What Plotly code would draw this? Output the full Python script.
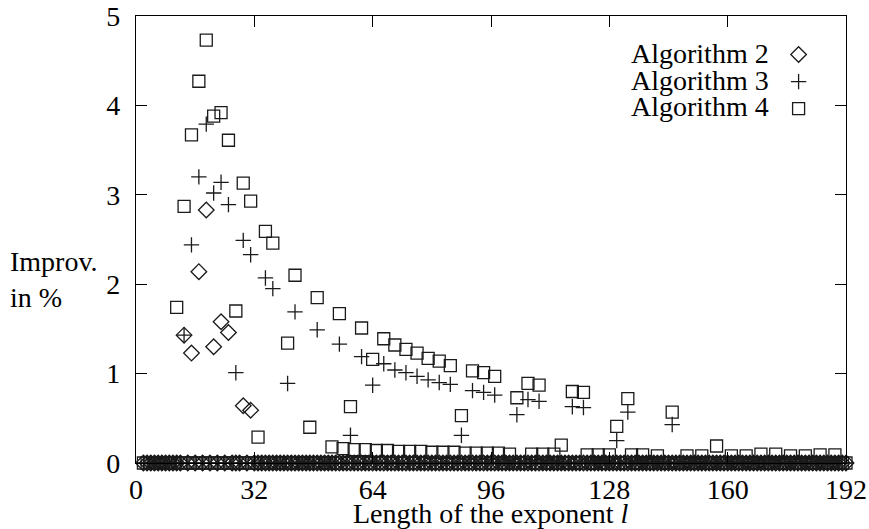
import plotly.graph_objects as go

# exponent lengths covered by the experiment
lengths = list(range(2, 193))

# non-zero improvements (in %); all other lengths are 0
alg2_l = [13, 15, 17, 19, 21, 23, 25, 29, 31]
alg2_v = [1.43, 1.23, 2.14, 2.83, 1.30, 1.58, 1.46, 0.64, 0.59]

alg3_l = [13, 15, 17, 19, 21, 23, 25, 27, 29, 31, 35, 37, 41, 43, 49, 55, 58, 61,
          64, 67, 70, 73, 76, 79, 82, 85, 88, 91, 94, 97, 103, 106, 109, 118, 121,
          130, 133, 145]
alg3_v = [1.43, 2.44, 3.20, 3.79, 3.02, 3.14, 2.89, 1.01, 2.49, 2.33, 2.07, 1.95,
          0.89, 1.69, 1.49, 1.33, 0.31, 1.19, 0.87, 1.11, 1.04, 1.01, 0.97, 0.93,
          0.90, 0.88, 0.31, 0.81, 0.79, 0.76, 0.54, 0.71, 0.69, 0.63, 0.62, 0.25,
          0.57, 0.43]

alg4_l = [11, 13, 15, 17, 19, 21, 23, 25, 27, 29, 31, 33, 35, 37, 41, 43, 47, 49,
          53, 55, 56, 58, 59, 61, 62, 64, 65, 67, 68, 70, 71, 73, 74, 76, 77, 79,
          80, 82, 83, 85, 86, 88, 89, 91, 92, 94, 95, 97, 98, 101, 103, 106, 107,
          109, 110, 113, 115, 118, 121, 122, 125, 128, 130, 133, 134, 137, 141,
          145, 149, 153, 157, 161, 165, 169, 173, 177, 181, 185, 189]
alg4_v = [1.74, 2.87, 3.67, 4.27, 4.73, 3.88, 3.92, 3.61, 1.70, 3.13, 2.93, 0.29,
          2.59, 2.46, 1.34, 2.10, 0.40, 1.85, 0.18, 1.67, 0.16, 0.63, 0.15, 1.51,
          0.15, 1.16, 0.14, 1.39, 0.14, 1.32, 0.13, 1.27, 0.13, 1.23, 0.13, 1.17,
          0.12, 1.14, 0.12, 1.09, 0.12, 0.53, 0.11, 1.03, 0.11, 1.01, 0.11, 0.97,
          0.11, 0.10, 0.73, 0.89, 0.10, 0.87, 0.10, 0.10, 0.20, 0.80, 0.79, 0.09,
          0.09, 0.09, 0.41, 0.72, 0.09, 0.09, 0.08, 0.57, 0.08, 0.08, 0.19, 0.08,
          0.08, 0.10, 0.10, 0.08, 0.08, 0.09, 0.09]

names = ["Algorithm 2", "Algorithm 3", "Algorithm 4"]
symbols = ["diamond-open", "cross-thin-open", "square-open"]
sizes = [12, 11, 12]
x_ticks = [0, 32, 64, 96, 128, 160, 192]
y_ticks = [0, 1, 2, 3, 4, 5]

FONT = "Liberation Serif"
FS = 28
INK = "#1a1a1a"


def full_series(ls, vs):
    m = dict(zip(ls, vs))
    return [m.get(l, 0.0) for l in lengths]


fig = go.Figure()
series = [(alg2_l, alg2_v), (alg3_l, alg3_v), (alg4_l, alg4_v)]
for (ls, vs), nm, sym, sz in zip(series, names, symbols, sizes):
    fig.add_trace(go.Scatter(
        x=lengths, y=full_series(ls, vs), mode="markers", name=nm,
        showlegend=False, cliponaxis=False,
        marker=dict(symbol=sym, size=sz, color=INK, line=dict(color=INK, width=1.3)),
    ))

# legend keys (symbols only); texts are placed as annotations on their left
for nm, sym, sz in zip(names, symbols, sizes):
    fig.add_trace(go.Scatter(
        x=[None], y=[None], mode="markers", name=" ", showlegend=True,
        marker=dict(symbol=sym, size=sz, color=INK, line=dict(color=INK, width=1.3)),
    ))

L, R, T, B = 135.5, 22.5, 16, 66
W, H = 869, 529
pw, ph = W - L - R, H - T - B


def px_x(p):
    return (p - L) / pw


def px_y(p):
    return (H - B - p) / ph


annotations = []
for i, nm in enumerate(names):
    annotations.append(dict(
        text=nm, xref="paper", yref="paper", x=px_x(771), y=px_y(53 + 27 * i),
        xanchor="right", yanchor="middle", showarrow=False,
        font=dict(family=FONT, size=FS, color="black"),
    ))
annotations.append(dict(
    text="Improv.<br>in %", xref="paper", yref="paper", x=px_x(7), y=px_y(279),
    xanchor="left", yanchor="middle", align="left", showarrow=False,
    font=dict(family=FONT, size=FS, color="black"),
))
annotations.append(dict(
    text="Length of the exponent <i>l</i>", xref="paper", yref="paper",
    x=px_x(490), y=px_y(513), xanchor="center", yanchor="middle", showarrow=False,
    font=dict(family=FONT, size=FS, color="black"),
))

axis_common = dict(
    showline=True, linecolor="black", linewidth=1.2, mirror="allticks",
    ticks="inside", ticklen=11, tickwidth=1.2, tickcolor="black",
    showgrid=False, zeroline=False, automargin=False,
    tickfont=dict(family=FONT, size=FS, color="black"),
)

fig.update_layout(
    width=W, height=H,
    margin=dict(l=L, r=R, t=T, b=B, pad=0),
    paper_bgcolor="white", plot_bgcolor="white",
    xaxis=dict(range=[0, 192], tickvals=x_ticks, ticklabelstandoff=1, **axis_common),
    yaxis=dict(range=[0, 5], tickvals=y_ticks, ticklabelstandoff=9, **axis_common),
    legend=dict(x=px_x(779), y=px_y(36), xanchor="left", yanchor="top",
                bgcolor="rgba(0,0,0,0)", font=dict(family=FONT, size=18.5),
                tracegroupgap=0, itemwidth=30),
    annotations=annotations,
    showlegend=True,
)

fig.write_html("out.html", config={"displayModeBar": False},
               post_script="document.body.style.margin='0';")
